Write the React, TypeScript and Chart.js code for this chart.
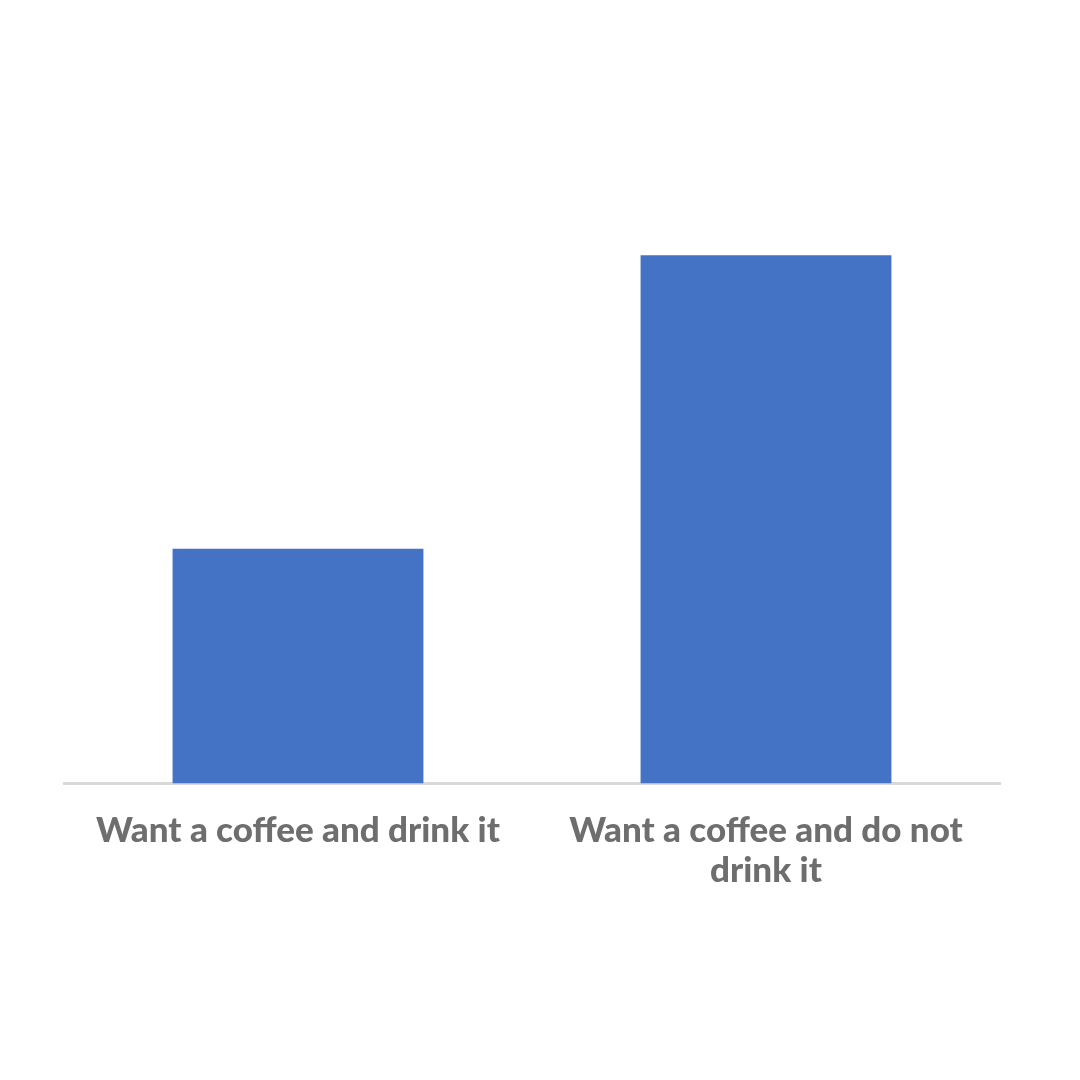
import { Chart, registerables } from "chart.js";
import { useEffect, useRef } from "react";

Chart.register(...registerables);

const categories: string[][] = [
  ["Want a coffee and drink it"],
  ["Want a coffee and do not", "drink it"],
];
const counts = [4, 9];

const App = () => {
  const canvasRef = useRef<HTMLCanvasElement | null>(null);
  const chartRef = useRef<any>(null);

  useEffect(() => {
    if (!canvasRef.current) return;
    if (chartRef.current) chartRef.current.destroy();

    chartRef.current = new Chart(canvasRef.current, {
      type: "bar",
      data: {
        labels: categories,
        datasets: [
          {
            data: counts,
            backgroundColor: "#4472C4",
            borderWidth: 0,
            barPercentage: 0.536,
            categoryPercentage: 1,
          },
        ],
      },
      options: {
        animation: false,
        responsive: false,
        maintainAspectRatio: false,
        layout: { padding: { top: 79, left: 64, right: 80, bottom: 162 } },
        scales: {
          x: {
            grid: { display: false, drawTicks: false },
            border: { color: "#D9D9D9", width: 3 },
            ticks: {
              color: "#6E6E6E",
              padding: 28,
              maxRotation: 0,
              autoSkip: false,
              font: { family: "Lato", size: 35, weight: 900, lineHeight: 1.12 },
            },
          },
          y: {
            display: false,
            min: 0,
            max: 12,
          },
        },
        plugins: {
          legend: { display: false },
          tooltip: { enabled: false },
        },
      },
    });

    return () => chartRef.current?.destroy();
  }, []);

  return (
    <div style={{ position: "absolute", left: 0, top: 0, width: 1080, height: 1080, background: "#fff" }}>
      <canvas ref={canvasRef} width={1080} height={1080}></canvas>
    </div>
  );
};

export default App;
